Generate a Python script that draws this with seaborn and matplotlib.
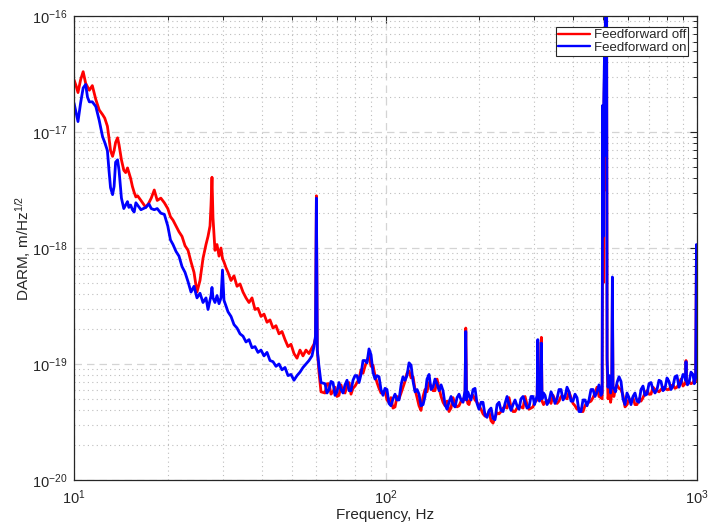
import numpy as np
import pandas as pd
import matplotlib
matplotlib.use("Agg")
import matplotlib.pyplot as plt
import seaborn as sns
from matplotlib.ticker import LogLocator, LogFormatterSciNotation, NullFormatter

# ---------------- data (frequency in Hz, log10 of DARM ASD in m/Hz^1/2) ----------------
freq_low = [10.0, 10.15, 10.3, 10.5, 10.7, 10.9, 11.05, 11.2, 11.45, 11.75, 12.05, 12.35, 12.55,
            12.8, 12.95, 13.1, 13.3, 13.45, 13.6, 13.8, 13.95, 14.2, 14.45, 14.65, 14.85, 15.0,
            15.2, 15.4, 15.6, 15.8, 16.0, 16.4, 17.0, 17.4, 17.7, 18.1, 18.5, 19.0, 19.5, 20.0, 20.4]
off_low = [-16.55, -16.60, -16.66, -16.55, -16.48, -16.58, -16.61, -16.64, -16.60, -16.72, -16.81,
           -16.85, -16.88, -16.95, -17.05, -17.16, -17.21, -17.16, -17.09, -17.05, -17.11, -17.24,
           -17.33, -17.35, -17.31, -17.35, -17.40, -17.47, -17.52, -17.56, -17.55, -17.59, -17.65,
           -17.61, -17.57, -17.50, -17.59, -17.57, -17.61, -17.66, -17.73]
on_low = [-16.75, -16.83, -16.91, -16.75, -16.62, -16.59, -16.70, -16.74, -16.74, -16.78, -16.90,
          -17.04, -17.09, -17.16, -17.33, -17.48, -17.54, -17.47, -17.26, -17.24, -17.33, -17.57,
          -17.66, -17.63, -17.60, -17.65, -17.63, -17.67, -17.69, -17.61, -17.63, -17.67, -17.65,
          -17.62, -17.66, -17.67, -17.66, -17.70, -17.71, -17.81, -17.93]

freq_mid = [20.79, 21.26, 21.73, 22.22, 22.72, 23.23, 23.75, 24.28, 24.82, 25.38, 25.95, 26.53, 26.93,
            27.33, 27.53, 27.73, 27.94, 28.35, 28.78, 29.21, 29.64, 29.97, 30.30, 30.76, 31.22, 31.92,
            32.63, 33.37, 34.12, 34.88, 35.66, 36.46, 37.28, 38.11, 38.96, 39.84, 40.74, 41.65, 42.58,
            43.54, 44.51, 45.51, 46.53, 47.58, 48.64, 49.73, 50.84, 51.99, 53.15, 54.34, 55.56, 56.80,
            58.07, 58.93, 59.6, 60.0, 60.4, 61.16, 62.08]
off_mid = [-17.76, -17.81, -17.86, -17.90, -17.98, -18.02, -18.12, -18.21, -18.38, -18.28,
           -18.09, -17.97, -17.90, -17.81, -17.63, -17.39, -17.74, -18.02, -17.97, -18.07,
           -18.00, -18.09, -18.12, -18.17, -18.21, -18.28, -18.24, -18.33, -18.31, -18.38,
           -18.43, -18.47, -18.43, -18.53, -18.52, -18.59, -18.57, -18.64, -18.62, -18.69,
           -18.67, -18.74, -18.72, -18.79, -18.85, -18.83, -18.91, -18.95, -18.88, -18.93,
           -18.88, -18.91, -18.86, -18.83, -18.78, -17.55, -18.88, -19.07, -19.24]
on_mid = [-17.97, -18.03, -18.07, -18.16, -18.21, -18.29, -18.38, -18.33, -18.43, -18.39,
          -18.47, -18.43, -18.53, -18.45, -18.41, -18.34, -18.43, -18.47, -18.41, -18.48,
          -18.43, -18.19, -18.45, -18.50, -18.55, -18.59, -18.66, -18.69, -18.74, -18.76,
          -18.81, -18.79, -18.86, -18.85, -18.90, -18.88, -18.93, -18.90, -18.97, -18.98,
          -19.02, -19.00, -19.05, -19.03, -19.10, -19.09, -19.14, -19.10, -19.07, -19.03,
          -19.00, -18.97, -18.93, -18.85, -18.76, -17.57, -18.88, -19.02, -19.16]

freq_high = [63.94, 65.86, 67.84, 69.87, 71.97, 74.13, 76.36, 78.65, 81.01, 83.44, 85.94, 88.52,
             91.17, 93.91, 96.73, 99.63, 102.6, 105.7, 108.9, 112.2, 115.5, 119.0, 122.6, 126.3,
             130.0, 133.9, 138.0, 142.1, 146.4, 150.8, 155.3, 159.9, 164.7, 169.7, 174.8,
             180.0, 181.0, 182.0,
             185.4, 191.0, 196.7, 202.6, 208.7, 215.0, 221.4, 228.1, 234.9, 242.0, 249.2, 256.7,
             264.4, 272.3, 280.5, 288.9, 297.6, 304.0,
             306.8, 308.3, 309.8, 312.0, 315.0, 316.5, 318.0,
             325.2, 334.9, 345.0, 355.3, 366.0, 377.0, 388.3, 399.9, 411.9, 424.3, 437.0, 450.1,
             463.6, 477.5, 491.8,
             496.0, 498.0, 500.0, 502.0, 504.5, 506.5, 508.5, 510.5, 512.5, 514.5, 518.0, 523.0,
             528.0, 532.5, 535.0, 537.5,
             541.0, 553.6, 570.2, 587.3, 604.9, 623.0, 641.7, 661.0, 680.8, 701.2, 722.3, 744.0,
             766.3, 789.3, 812.9, 837.3, 862.4, 888.3, 915.0,
             920.0, 922.0, 924.0,
             942.4, 970.7, 990.0, 996.0, 1000.0]
off_high = [-19.25, -19.17, -19.24, -19.28, -19.18, -19.25, -19.16, -19.21, -19.16, -19.05,
            -19.02, -18.93, -19.01, -19.16, -19.25, -19.23, -19.33, -19.38, -19.28, -19.25,
            -19.15, -19.06, -19.11, -19.29, -19.40, -19.22, -19.16, -19.23, -19.13, -19.28,
            -19.36, -19.41, -19.29, -19.37, -19.32,
            -19.31, -18.69, -19.27,
            -19.35, -19.27, -19.33, -19.39, -19.45, -19.41, -19.51, -19.42, -19.41, -19.37,
            -19.29, -19.41, -19.38, -19.37, -19.28, -19.39, -19.37, -19.32,
            -19.31, -18.81, -19.30, -19.29, -19.30, -18.77, -19.32,
            -19.33, -19.31, -19.27, -19.34, -19.28, -19.29, -19.24, -19.34, -19.39, -19.41,
            -19.36, -19.33, -19.29, -19.20, -19.29,
            -19.30, -17.10, -18.30, -16.95, -16.50, -17.50, -15.50, -17.00, -15.70, -19.00,
            -19.30, -19.22, -19.33, -19.25, -18.40, -19.25,
            -19.28, -19.18, -19.22, -19.37, -19.30, -19.29, -19.35, -19.32, -19.25, -19.26,
            -19.20, -19.23, -19.22, -19.21, -19.22, -19.18, -19.20, -19.13, -19.17,
            -19.16, -18.97, -19.17,
            -19.15, -19.16, -19.15, -18.00, -18.45]
on_high = [-19.17, -19.22, -19.16, -19.24, -19.22, -19.18, -19.23, -19.14, -19.10, -19.09,
           -18.97, -18.87, -19.07, -19.10, -19.22, -19.21, -19.34, -19.30, -19.31, -19.18,
           -19.14, -18.99, -19.15, -19.22, -19.36, -19.28, -19.09, -19.20, -19.17, -19.18,
           -19.35, -19.33, -19.35, -19.29, -19.31,
           -19.23, -18.72, -19.31,
           -19.27, -19.22, -19.34, -19.33, -19.44, -19.40, -19.47, -19.35, -19.40, -19.34,
           -19.35, -19.35, -19.36, -19.30, -19.33, -19.37, -19.28, -19.31,
           -19.27, -18.79, -19.28, -19.32, -19.27, -18.82, -19.30,
           -19.27, -19.32, -19.28, -19.30, -19.22, -19.28, -19.24, -19.32, -19.29, -19.41,
           -19.31, -19.31, -19.22, -19.24, -19.27,
           -19.25, -16.77, -17.90, -16.72, -16.36, -17.20, -15.50, -16.90, -15.50, -18.95,
           -19.20, -19.10, -19.25, -19.15, -18.25, -19.20,
           -19.21, -19.16, -19.15, -19.35, -19.29, -19.28, -19.32, -19.22, -19.27, -19.17,
           -19.22, -19.22, -19.15, -19.21, -19.15, -19.19, -19.10, -19.16, -19.11,
           -19.14, -18.98, -19.14,
           -19.16, -19.09, -19.12, -17.97, -18.40]

# extra in-between readings of the noisy floor above 60 Hz
freq_floor = [64.9, 66.85, 68.86, 70.92, 73.05, 75.24, 77.5, 79.83, 82.22, 84.69, 87.23, 89.85,
              92.54, 95.32, 98.18, 101.1, 104.1, 107.3, 110.5, 113.8, 117.2, 120.8, 124.4, 128.1,
              132.0, 135.9, 140.0, 144.2, 148.6, 153.0, 157.6, 162.3, 167.2, 172.2, 177.4, 183.7,
              188.2, 193.8, 199.6, 205.6, 211.8, 218.2, 224.7, 231.5, 238.4, 245.6, 252.9, 260.5,
              268.3, 276.4, 284.7, 293.2, 300.8, 321.6, 330.0, 339.9, 350.1, 360.6, 371.5, 382.6,
              394.1, 405.9, 418.1, 430.6, 443.5, 456.8, 470.5, 484.6, 547.3, 561.9, 578.7, 596.1,
              613.9, 632.3, 651.3, 670.9, 691.0, 711.7, 733.1, 755.1, 777.8, 801.1, 825.1, 849.8,
              875.3, 901.6, 932.0, 956.5, 980.0]
off_floor = [-19.17, -19.26, -19.20, -19.27, -19.24, -19.19, -19.26, -19.19, -19.13, -19.08,
             -18.97, -19.02, -19.10, -19.21, -19.25, -19.31, -19.29, -19.37, -19.30, -19.20,
             -19.08, -19.12, -19.22, -19.36, -19.28, -19.24, -19.19, -19.23, -19.21, -19.33,
             -19.32, -19.38, -19.34, -19.36, -19.30, -19.34, -19.28, -19.31, -19.36, -19.43,
             -19.44, -19.49, -19.46, -19.43, -19.38, -19.38, -19.37, -19.41, -19.36, -19.38,
             -19.35, -19.38, -19.33, -19.35, -19.32, -19.34, -19.31, -19.32, -19.28, -19.30,
             -19.29, -19.36, -19.38, -19.41, -19.33, -19.32, -19.25, -19.28, -19.21, -19.21,
             -19.27, -19.35, -19.32, -19.35, -19.30, -19.29, -19.23, -19.26, -19.22, -19.24,
             -19.20, -19.22, -19.19, -19.21, -19.17, -19.19, -19.15, -19.17, -19.14]
on_floor = [-19.25, -19.15, -19.27, -19.16, -19.25, -19.14, -19.23, -19.10, -19.16, -18.97,
            -18.99, -18.92, -19.13, -19.11, -19.27, -19.22, -19.36, -19.26, -19.31, -19.11,
            -19.10, -19.01, -19.24, -19.26, -19.35, -19.13, -19.22, -19.13, -19.23, -19.23,
            -19.39, -19.28, -19.37, -19.26, -19.33, -19.24, -19.31, -19.21, -19.39, -19.33,
            -19.46, -19.38, -19.48, -19.33, -19.41, -19.28, -19.40, -19.31, -19.39, -19.28,
            -19.38, -19.28, -19.35, -19.25, -19.35, -19.24, -19.34, -19.22, -19.31, -19.20,
            -19.32, -19.26, -19.41, -19.31, -19.36, -19.22, -19.28, -19.18, -19.24, -19.11,
            -19.30, -19.25, -19.35, -19.25, -19.33, -19.19, -19.26, -19.16, -19.25, -19.14,
            -19.23, -19.12, -19.22, -19.11, -19.20, -19.09, -19.18, -19.07, -19.17]

series_names = ["Feedforward off", "Feedforward on"]
series_colors = ["#ff0000", "#0000ff"]
xlabel = "Frequency, Hz"
ylabel = r"DARM, m/Hz$^{1/2}$"

# ---------------- build long-form table ----------------
freq = freq_low + freq_mid + freq_high + freq_floor
log_off = off_low + off_mid + off_high + off_floor
log_on = on_low + on_mid + on_high + on_floor
assert len(freq) == len(log_off) == len(log_on)

df = pd.concat([
    pd.DataFrame({"freq": freq, "asd": 10.0 ** np.array(log_off), "series": series_names[0]}),
    pd.DataFrame({"freq": freq, "asd": 10.0 ** np.array(log_on), "series": series_names[1]}),
], ignore_index=True)
df = df.sort_values(["series", "freq"], kind="stable").reset_index(drop=True)

# ---------------- style ----------------
sns.set_theme(style="white")
plt.rcParams["font.family"] = ["Liberation Sans", "DejaVu Sans"]
plt.rcParams["mathtext.fontset"] = "custom"
plt.rcParams["mathtext.rm"] = "Liberation Sans"
plt.rcParams["mathtext.it"] = "Liberation Sans"
plt.rcParams["mathtext.bf"] = "Liberation Sans:bold"

fig = plt.figure(figsize=(7.12, 5.25), dpi=100)
fig.patch.set_facecolor("white")
ax = fig.add_axes([74 / 712, 45 / 525, 623 / 712, 464 / 525])

sns.lineplot(data=df, x="freq", y="asd", hue="series", hue_order=series_names,
             palette=dict(zip(series_names, series_colors)), estimator=None, sort=True,
             linewidth=2.0, ax=ax)

ax.set_xscale("log")
ax.set_yscale("log")
ax.set_xlim(10, 1000)
ax.set_ylim(1e-20, 1e-16)

ax.xaxis.set_major_locator(LogLocator(base=10, numticks=10))
ax.xaxis.set_minor_locator(LogLocator(base=10, subs=np.arange(2, 10), numticks=20))
ax.yaxis.set_major_locator(LogLocator(base=10, numticks=10))
ax.yaxis.set_minor_locator(LogLocator(base=10, subs=np.arange(2, 10), numticks=20))
ax.xaxis.set_major_formatter(LogFormatterSciNotation())
ax.yaxis.set_major_formatter(LogFormatterSciNotation())
ax.xaxis.set_minor_formatter(NullFormatter())
ax.yaxis.set_minor_formatter(NullFormatter())

ax.grid(which="major", linestyle=(0, (6, 4)), color="#d4d4d4", linewidth=0.9)
ax.grid(which="minor", linestyle=(0, (1, 3)), color="#bdbdbd", linewidth=0.8)
ax.set_axisbelow(True)

for s in ax.spines.values():
    s.set_visible(True)
    s.set_color("#262626")
    s.set_linewidth(0.9)

ax.tick_params(which="both", direction="in", top=True, right=True, colors="#262626",
               labelcolor="#262626")
ax.tick_params(which="major", length=5, width=0.8, labelsize=10.5)
ax.tick_params(which="minor", length=2.8, width=0.7)
ax.tick_params(axis="x", which="major", pad=6)
ax.tick_params(axis="y", which="major", pad=5)

ax.set_xlabel(xlabel, fontsize=11, color="#262626", labelpad=1)
ax.set_ylabel(ylabel, fontsize=11, color="#262626", labelpad=-1)

handles, labels = ax.get_legend_handles_labels()
leg = ax.legend(handles=handles, labels=labels, loc="upper right",
                bbox_to_anchor=((688 - 74) / 623, 1 - (27 - 16) / 464), borderaxespad=0,
                fontsize=9.5, frameon=True, fancybox=False, framealpha=1, edgecolor="#262626",
                handlelength=2.4, handletextpad=0.3, borderpad=0.15, labelspacing=0.05)
leg.get_frame().set_linewidth(0.8)
for line in leg.get_lines():
    line.set_linewidth(1.7)

fig.savefig("out.png", dpi=100, facecolor="white")
